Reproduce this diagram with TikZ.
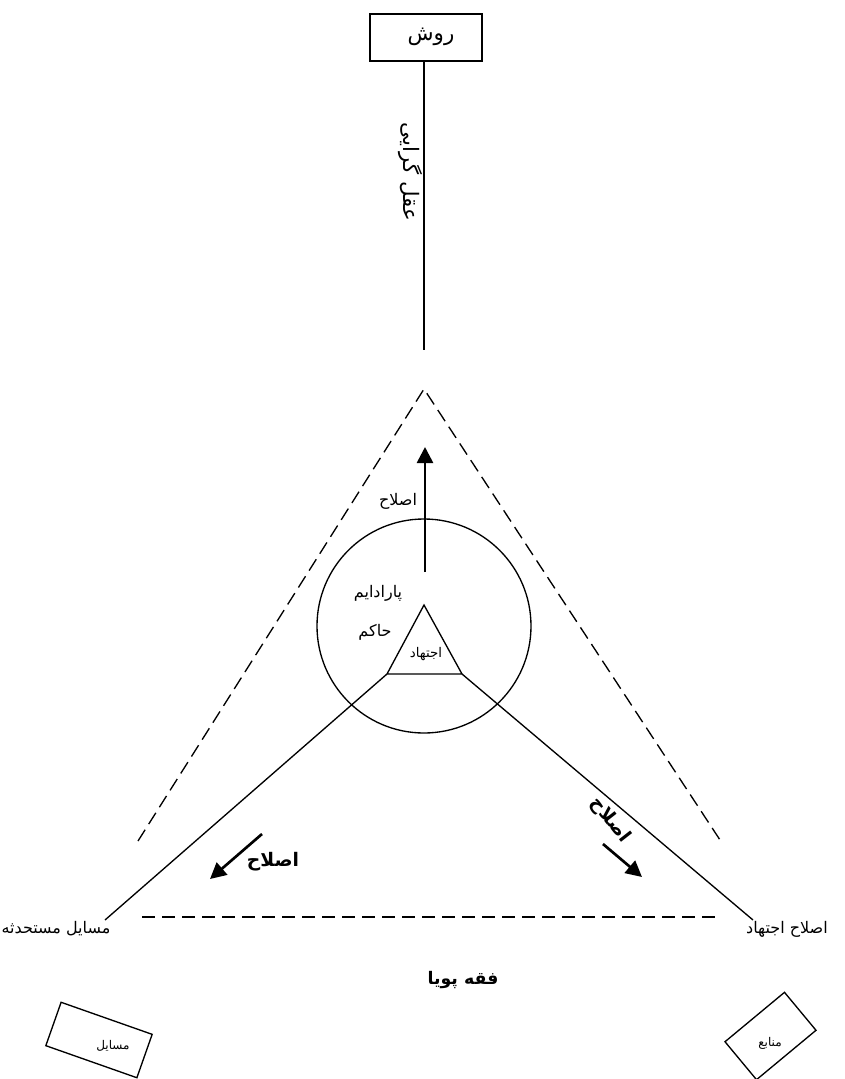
\documentclass[tikz,border=0pt]{standalone}
\usepackage{fontspec}
\usetikzlibrary{arrows.meta}
\newfontfamily\fa[Script=Arabic]{DejaVu Sans}
\TeXXeTstate=1
\tikzset{
  txt/.style={font=\fa\fontsize{12}{14}\selectfont, inner sep=0pt},
  txtsmall/.style={font=\fa\fontsize{10}{12}\selectfont, inner sep=0pt},
  txtbig/.style={font=\fa\fontsize{16}{18}\selectfont, inner sep=0pt},
  txtbold/.style={font=\fa\bfseries\fontsize{14}{16}\selectfont, inner sep=0pt},
  thin/.style={line width=1pt},
  dsh/.style={line width=1pt, dash pattern=on 10pt off 5pt},
  thickarrow/.style={line width=2pt, -{Triangle[length=12pt,width=12pt]}},
  boxed/.style={draw, line width=1pt, inner sep=0pt}
}
\begin{document}
\begin{tikzpicture}[x=0.75pt,y=-0.75pt]
\useasboundingbox (0,0) rectangle (845,1079);
% top box and vertical line
\node[boxed, minimum width=84pt, minimum height=35.25pt] (roosh) at (426,37.5) {};
\node[txtbig] (rooshtxt) at (431,37) {\beginR روش\endR};
\coordinate (vtop) at (424,61);
\coordinate (vbot) at (424,350);
\draw[thin] (vtop) -- (vbot);
\node[txtbig, rotate=-90] (aql) at (410,172) {\beginR عقل گرایی\endR};
% dashed triangle
\coordinate (dapex) at (424,389);
\coordinate (dleft) at (138,841);
\coordinate (dright) at (722,843);
\draw[dsh] (dleft) -- (dapex) -- (dright);
\coordinate (hl) at (142,917);
\coordinate (hr) at (718,917);
\draw[dsh] (hl) -- (hr);
% circle
\node[draw, thin, circle, minimum size=160.5pt, inner sep=0pt] (circ) at (424,626) {};
% vertical arrow
\coordinate (arrbot) at (425,572);
\coordinate (arrtop) at (425,447);
\draw[thickarrow] (arrbot) -- (arrtop);
\node[txt] (eslah1) at (398,501) {\beginR اصلاح\endR};
\node[txt] (parad) at (378,593) {\beginR پارادایم\endR};
\node[txt] (hakem) at (375,632) {\beginR حاکم\endR};
% inner triangle
\coordinate (tapex) at (424,605);
\coordinate (tl) at (387,674);
\coordinate (tr) at (462,674);
\draw[thin] (tapex) -- (tl) -- (tr) -- cycle;
\node[txtsmall] (ejt) at (426,654) {\beginR اجتهاد\endR};
% labels at corners
\node[txt] (masael) at (56,929) {\beginR مسایل مستحدثه\endR};
\node[txt] (eslahejt) at (787,929) {\beginR اصلاح اجتهاد\endR};
\coordinate (lend) at (105,920);
\coordinate (rend) at (753,920);
\draw[thin] (tl) -- (lend);
\draw[thin] (tr) -- (rend);
% side arrows
\coordinate (la1) at (262,834);
\coordinate (la2) at (210,879);
\draw[thickarrow] (la1) -- (la2);
\coordinate (ra1) at (603,844);
\coordinate (ra2) at (642,877);
\draw[thickarrow] (ra1) -- (ra2);
\node[txtbold] (eslahL) at (273,862) {\beginR اصلاح\endR};
\node[txtbold, rotate=-52] (eslahR) at (610,820) {\beginR اصلاح\endR};
% bottom
\node[txtbold, font=\fa\bfseries\fontsize{13}{15}\selectfont] (feqh) at (463,980) {\beginR فقه پویا\endR};
\node[boxed, rotate=-19.4, minimum width=72.4pt, minimum height=34.5pt] (mbox) at (99,1040) {};
\node[txt, font=\fa\fontsize{9}{11}\selectfont] (mboxtxt) at (113,1046) {\beginR مسایل\endR};
\node[boxed, rotate=39.7, minimum width=58pt, minimum height=37pt] (nbox) at (770.5,1036) {};
\node[txt, font=\fa\fontsize{9}{11}\selectfont] (nboxtxt) at (770,1043) {\beginR منابع\endR};
\end{tikzpicture}
\end{document}
